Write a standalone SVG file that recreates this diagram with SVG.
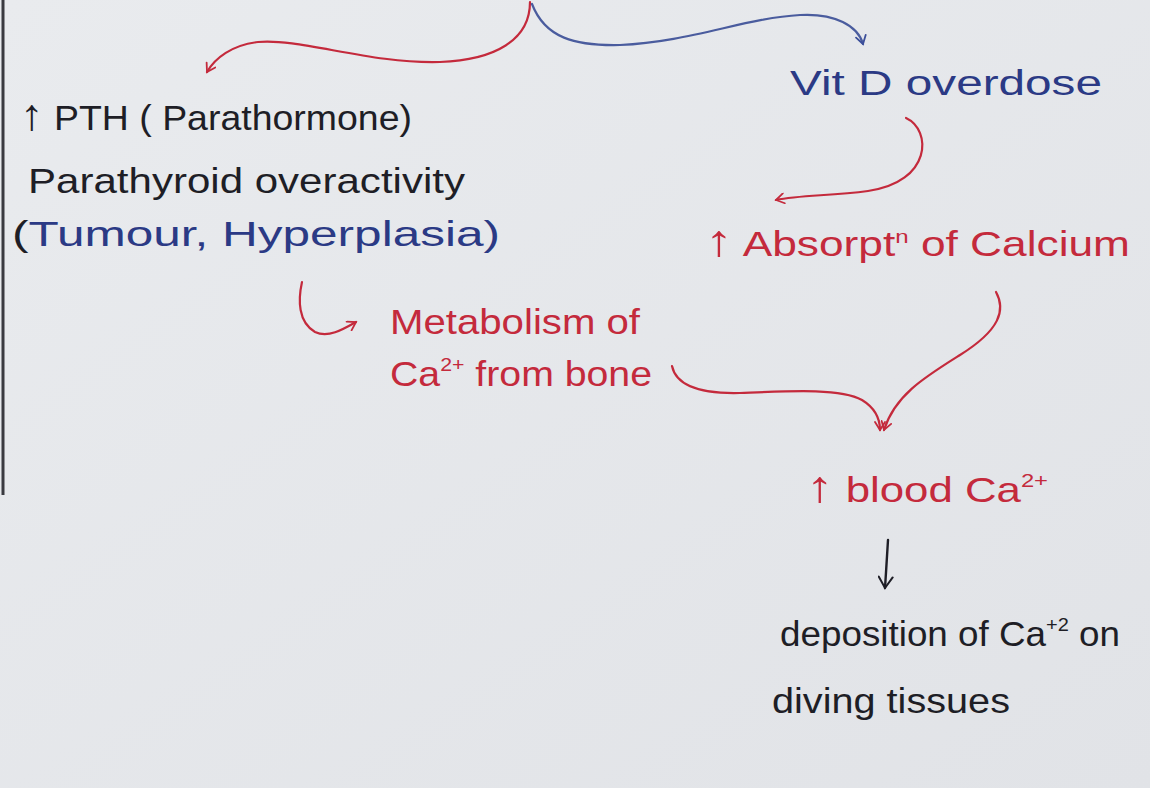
<svg xmlns="http://www.w3.org/2000/svg" width="1150" height="788" viewBox="0 0 1150 788">
<defs>
<linearGradient id="bg" x1="0" y1="0" x2="1" y2="1">
<stop offset="0" stop-color="#e9ebee"/>
<stop offset="1" stop-color="#e1e3e7"/>
</linearGradient>
<marker id="ar-red" viewBox="0 0 12 12" refX="10" refY="6" markerWidth="12" markerHeight="12" markerUnits="userSpaceOnUse" orient="auto">
<path d="M2,1 L10,6 L2,11" fill="none" stroke="#c42a3c" stroke-width="1.8" stroke-linecap="round"/>
</marker>
<marker id="ar-blue" viewBox="0 0 12 12" refX="10" refY="6" markerWidth="12" markerHeight="12" markerUnits="userSpaceOnUse" orient="auto">
<path d="M2,1 L10,6 L2,11" fill="none" stroke="#3c4f9a" stroke-width="1.8" stroke-linecap="round"/>
</marker>
<marker id="ar-black" viewBox="0 0 16 16" refX="13" refY="8" markerWidth="16" markerHeight="16" markerUnits="userSpaceOnUse" orient="auto">
<path d="M2,1 L13,8 L2,15" fill="none" stroke="#1e1e26" stroke-width="2" stroke-linecap="round"/>
</marker>
</defs>
<style>
text { font-family: "Liberation Sans", "DejaVu Sans", sans-serif; font-size: 35px; }
.blk { fill: #1e1e26; }
.blu { fill: #2b3a85; }
.red { fill: #c42a3c; }
.sup { font-size: 19px; }
.up { font-size: 44px; }
.c-red { fill: none; stroke: #c42a3c; stroke-width: 2.2; stroke-linecap: round; }
.c-blue { fill: none; stroke: #4a5c9e; stroke-width: 2.2; stroke-linecap: round; }
.c-black { fill: none; stroke: #1e1e26; stroke-width: 2.4; stroke-linecap: round; }
</style>
<rect x="0" y="0" width="1150" height="788" fill="url(#bg)"/>
<line x1="3" y1="0" x2="3" y2="495" stroke="#3a3a40" stroke-width="3"/>

<g id="connectors">
<path class="c-red" d="M530,2 C530,40 495,60 440,62 C370,64 300,38 258,42 C232,45 215,58 207,72" marker-end="url(#ar-red)"/>
<path class="c-blue" d="M532,4 C545,38 575,46 620,45 C690,42 745,18 800,15 C835,13 858,26 863,44" marker-end="url(#ar-blue)"/>
<path class="c-red" d="M906,118 C932,130 932,182 868,191 C830,196 800,195 776,200" marker-end="url(#ar-red)"/>
<path class="c-red" d="M302,282 C298,300 298,322 315,332 C328,338 342,330 356,322" marker-end="url(#ar-red)"/>
<path class="c-red" d="M672,366 C676,385 700,394 740,393 C790,391 840,388 862,400 C875,408 880,418 880,430" marker-end="url(#ar-red)"/>
<path class="c-red" d="M996,292 C1006,310 1000,330 960,355 C925,377 895,395 884,430" marker-end="url(#ar-red)"/>
<path class="c-black" d="M888,540 C887,558 886,572 885,588" marker-end="url(#ar-black)"/>
</g>

<g id="node-pth">
<text class="blk" x="20" y="130" textLength="392" lengthAdjust="spacingAndGlyphs"><tspan class="up">↑</tspan> PTH ( Parathormone)</text>
</g>
<g id="node-parathyroid">
<text class="blk" x="28" y="193" textLength="437" lengthAdjust="spacingAndGlyphs">Parathyroid overactivity</text>
</g>
<g id="node-causes">
<text x="12" y="246" textLength="488" lengthAdjust="spacingAndGlyphs"><tspan class="blk">(</tspan><tspan class="blu">Tumour, Hyperplasia)</tspan></text>
</g>
<g id="node-vitd">
<text class="blu" x="790" y="95" textLength="312" lengthAdjust="spacingAndGlyphs">Vit D overdose</text>
</g>
<g id="node-absorption">
<text class="red" x="705" y="256" textLength="425" lengthAdjust="spacingAndGlyphs"><tspan class="up">↑</tspan> Absorpt<tspan class="sup" dy="-13">n</tspan><tspan dy="13"> of Calcium</tspan></text>
</g>
<g id="node-metabolism">
<text class="red" x="390" y="334" textLength="250" lengthAdjust="spacingAndGlyphs">Metabolism of</text>
<text class="red" x="390" y="386" textLength="262" lengthAdjust="spacingAndGlyphs">Ca<tspan class="sup" dy="-15">2+</tspan><tspan dy="15"> from bone</tspan></text>
</g>
<g id="node-blood">
<text class="red" x="806" y="502" textLength="242" lengthAdjust="spacingAndGlyphs"><tspan class="up">↑</tspan> blood Ca<tspan class="sup" dy="-15">2+</tspan></text>
</g>
<g id="node-deposition">
<text class="blk" x="780" y="646" textLength="340" lengthAdjust="spacingAndGlyphs">deposition of Ca<tspan class="sup" dy="-15">+2</tspan><tspan dy="15"> on</tspan></text>
<text class="blk" x="772" y="713" textLength="238" lengthAdjust="spacingAndGlyphs">diving tissues</text>
</g>
</svg>
